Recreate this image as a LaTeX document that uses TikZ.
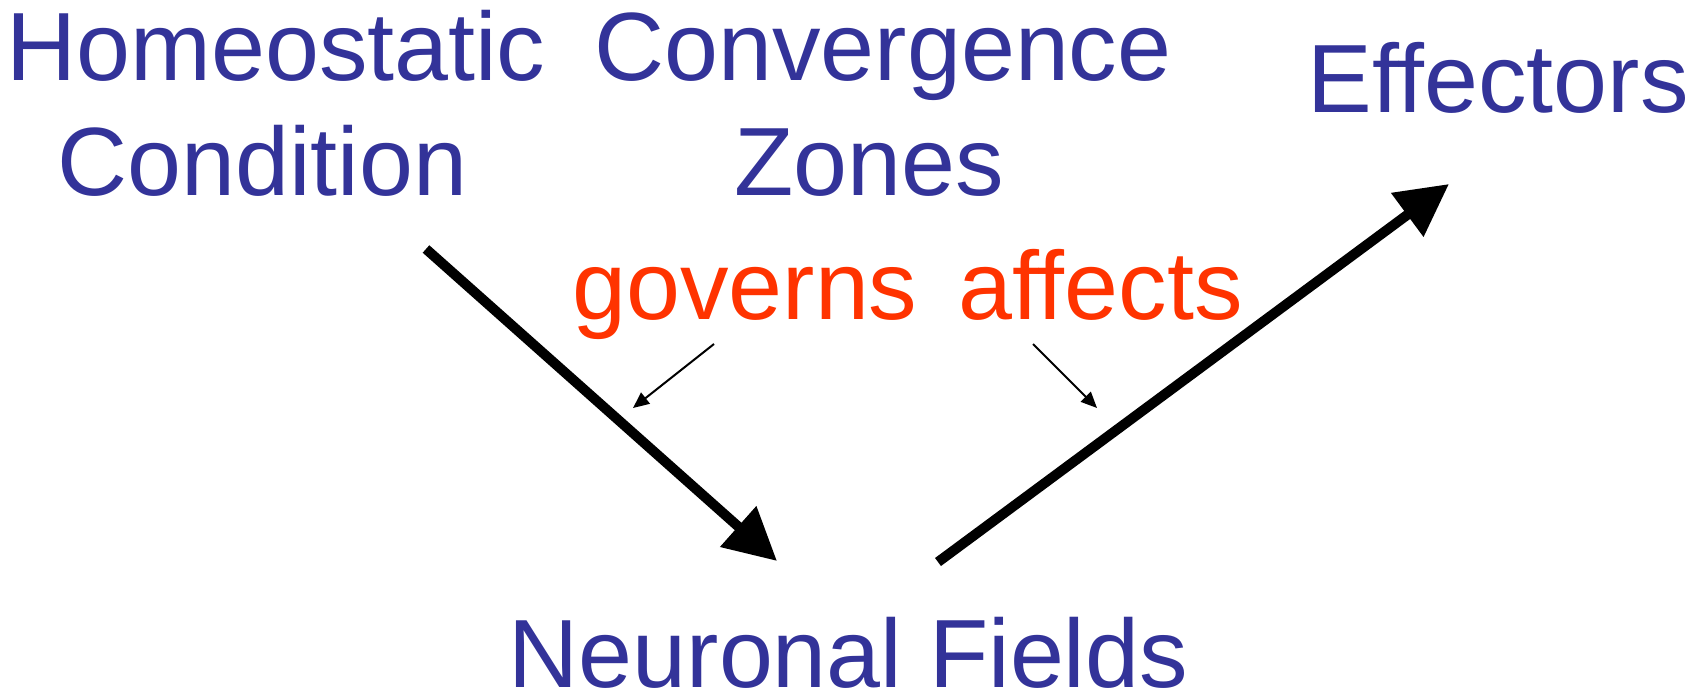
\documentclass[tikz,border=0pt]{standalone}
\usepackage{fontspec}
\setmainfont{Liberation Sans}
\usepackage{xcolor}
\usetikzlibrary{arrows.meta}
\definecolor{termblue}{RGB}{51,51,153}
\definecolor{verbred}{RGB}{255,51,0}

\begin{document}
\begin{tikzpicture}[
  x=0.1mm, y=-0.1mm,
  term/.style={text=termblue, font=\fontsize{27.6}{32.7}\selectfont, inner sep=0pt, align=center, anchor=base},
  verb/.style={text=verbred, font=\fontsize{27.6}{32.7}\selectfont, inner sep=0pt, anchor=base},
  bigarrow/.style={-{Triangle[length=5.2mm, width=5.2mm]}, line width=1mm},
  thinarrow/.style={-{Triangle[length=1.6mm, width=1.4mm]}, line width=0.2mm}
]
\useasboundingbox (0,0) rectangle (1705,692);

\node[term] (homeo) at (276,195) {Homeostatic\\Condition\hspace*{0.278em}};
\node[term] (conv) at (883,195) {Convergence\\Zones\hspace*{0.278em}};
\node[term] (effect) at (1498,112) {Effectors};
\node[term] (neuro) at (848.5,687) {Neuronal Fields};
\node[verb] (governs) at (745,319) {governs};
\node[verb] (affects) at (1100.5,319) {affects};

\coordinate (hc-out) at (426,249);
\coordinate (nf-in) at (777,561);
\coordinate (nf-out) at (938,562);
\coordinate (ef-in) at (1449,184);
\coordinate (gv-from) at (714,344);
\coordinate (gv-to) at (633,408);
\coordinate (af-from) at (1033,344);
\coordinate (af-to) at (1097,408);

\draw[bigarrow] (hc-out) -- (nf-in);
\draw[bigarrow] (nf-out) -- (ef-in);
\draw[thinarrow] (gv-from) -- (gv-to);
\draw[thinarrow] (af-from) -- (af-to);
\end{tikzpicture}
\end{document}
